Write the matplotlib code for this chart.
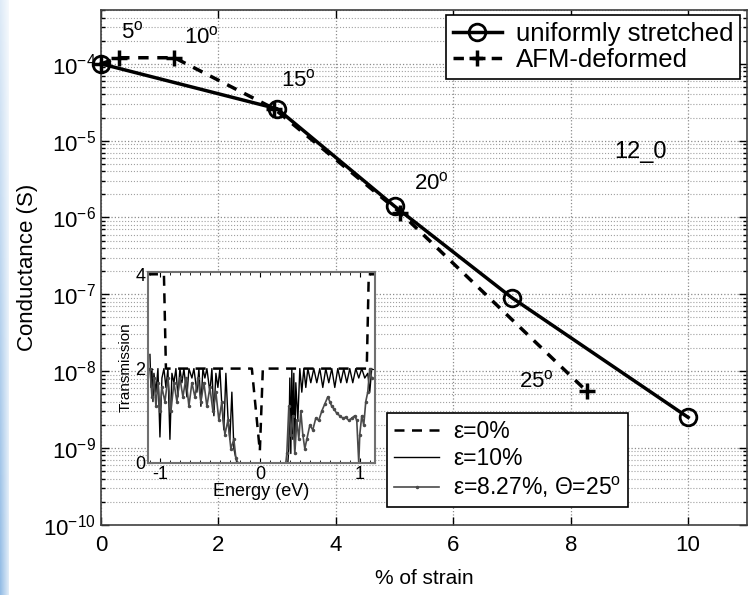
import numpy as np
import matplotlib
matplotlib.use("Agg")
import matplotlib.pyplot as plt
from matplotlib.ticker import LogLocator, NullFormatter, MultipleLocator

plt.rcParams['font.family'] = ['Liberation Sans', 'DejaVu Sans']
plt.rcParams['mathtext.default'] = 'regular'
plt.rcParams['axes.unicode_minus'] = False

# conductance vs strain
strain_uniform = [0, 3, 5, 7, 10]
cond_uniform = [1.0e-4, 2.6e-5, 1.4e-6, 9.0e-8, 2.5e-9]

afm_angle = [0, 5, 10, 15, 20, 25]
strain_afm = [0, 0.3, 1.25, 2.95, 5.1, 8.27]
cond_afm = [1.0e-4, 1.2e-4, 1.2e-4, 2.6e-5, 1.15e-6, 5.5e-9]

y_ticks = [1e-10, 1e-9, 1e-8, 1e-7, 1e-6, 1e-5, 1e-4]

# transmission spectra (inset)
e_0 = [-1.12, -0.96, -0.94, -0.08, 0.0, 0.03, 1.07, 1.09, 1.15]
t_0 = [4, 4, 2, 2, 0.25, 2, 2, 4, 4]

e_10 = [-1.10, -1.09, -1.08, -1.07, -1.06, -1.04, -1.02, -1.00, -0.98, -0.96,
        -0.94, -0.92, -0.90, -0.88, -0.86, -0.84, -0.82, -0.80, -0.78, -0.76,
        -0.73, -0.71, -0.68, -0.66, -0.63, -0.61, -0.59, -0.57, -0.55, -0.53,
        -0.50, -0.48, -0.46, -0.44, -0.42, -0.40, -0.38, -0.36, -0.34, -0.32,
        -0.30, -0.28, -0.26, -0.24, -0.23, 0.28, 0.29, 0.30, 0.31, 0.32,
        0.33, 0.34, 0.35, 0.36, 0.38, 0.40, 0.42, 0.44, 0.46, 0.48,
        0.51, 0.54, 0.57, 0.60, 0.63, 0.66, 0.69, 0.72, 0.75, 0.78,
        0.81, 0.84, 0.87, 0.90, 0.93, 0.96, 0.99, 1.02, 1.05, 1.08,
        1.10, 1.12]
t_10 = [2.3, 1.6, 2.0, 1.3, 1.9, 1.5, 2.0, 0.55, 1.8, 2.0,
        1.6, 2.0, 0.5, 1.9, 1.7, 2.0, 1.4, 2.0, 1.7, 2.0,
        1.4, 2.0, 1.8, 2.0, 1.5, 2.0, 1.2, 2.0, 1.8, 2.0,
        1.5, 2.0, 1.0, 1.9, 1.6, 2.0, 1.2, 0.7, 1.9, 1.0,
        0.5, 1.5, 0.3, 0.1, 0.0, 0.0, 0.3, 1.8, 0.2, 2.0,
        0.5, 1.9, 0.3, 1.7, 0.9, 2.0, 1.5, 2.0, 1.6, 2.0,
        1.7, 2.0, 1.7, 2.0, 1.6, 2.0, 1.7, 2.0, 1.6, 2.0,
        1.7, 2.0, 1.7, 2.0, 1.7, 2.0, 1.8, 2.0, 1.8, 1.9,
        1.5, 2.0]

e_25 = [-1.10, -1.08, -1.06, -1.04, -1.02, -1.00, -0.98, -0.95, -0.92, -0.89,
        -0.86, -0.83, -0.80, -0.77, -0.74, -0.71, -0.68, -0.65, -0.62, -0.59,
        -0.56, -0.53, -0.50, -0.47, -0.44, -0.41, -0.38, -0.35, -0.32, -0.29,
        -0.26, -0.24, -0.22, 0.26, 0.27, 0.29, 0.31, 0.33, 0.35, 0.37,
        0.39, 0.41, 0.43, 0.45, 0.47, 0.50, 0.53, 0.56, 0.59, 0.62,
        0.65, 0.68, 0.70, 0.72, 0.74, 0.77, 0.80, 0.83, 0.86, 0.89,
        0.92, 0.95, 0.97, 0.99, 1.00, 1.02, 1.04, 1.06, 1.08, 1.10,
        1.12]
t_25 = [2.0, 1.4, 1.8, 1.2, 1.7, 1.1, 1.6, 1.3, 1.8, 1.1,
        1.7, 1.3, 1.8, 1.4, 1.8, 1.2, 1.7, 1.4, 1.8, 1.3,
        1.7, 1.2, 1.6, 1.1, 1.5, 0.9, 1.3, 0.6, 0.9, 0.3,
        0.5, 0.1, 0.0, 0.0, 0.2, 1.2, 0.6, 1.0, 0.2, 0.9,
        0.5, 1.1, 0.6, 0.3, 0.5, 0.8, 0.7, 0.95, 0.9, 1.1,
        1.25, 1.4, 1.3, 1.2, 1.15, 1.05, 1.0, 0.95, 0.97, 0.9,
        0.95, 1.0, 0.9, 0.0, 0.6, 1.0, 0.8, 1.3, 1.5, 2.0,
        1.8]

fig = plt.figure(figsize=(7.51, 5.95), dpi=100)

# pale blue strip along the left edge
gy = np.linspace(0, 1, 595)[:, None]
gx = np.linspace(0, 1, 9)[None, :]
alpha = (0.3 + 0.7 * gy) * (1 - 0.7 * gx)
rgba = np.ones((595, 9, 4))
rgba[..., 0] = 1 - alpha * 0.42
rgba[..., 1] = 1 - alpha * 0.26
rgba[..., 2] = 1 - alpha * 0.10
fig.figimage(rgba, xo=0, yo=0, origin='upper', zorder=0)

ax = fig.add_axes([0.1345, 0.118, 0.860, 0.865])
ax.set_yscale('log')
ax.set_xlim(0, 11)
ax.set_ylim(1e-10, 5e-4)

ax.plot(strain_uniform, cond_uniform, '-o', color='black', lw=2.5,
        ms=12, mfc='none', mew=2, clip_on=False, zorder=5,
        label='uniformly stretched')
ax.plot(strain_afm, cond_afm, '--+', color='black', lw=2.5,
        ms=11, mew=2.5, dashes=(3, 2.5), clip_on=False, zorder=4,
        label='AFM-deformed')

offsets = {5: (14, 25), 10: (27, 20), 15: (24, 28), 20: (31, 29), 25: (-50, 10)}
for ang, sx, cy in zip(afm_angle, strain_afm, cond_afm):
    if ang in offsets:
        ax.annotate(str(ang) + r'$^{o}$', (sx, cy), xytext=offsets[ang],
                    textcoords='offset pixels', ha='center', va='center',
                    fontsize=16)

ax.text(0.836, 0.724, '12_0', transform=ax.transAxes, ha='center',
        va='center', fontsize=17)

ax.set_xticks([0, 2, 4, 6, 8, 10])
ax.set_yticks(y_ticks)
ax.yaxis.set_minor_locator(LogLocator(base=10, subs=np.arange(2, 10), numticks=20))
ax.yaxis.set_minor_formatter(NullFormatter())
ax.tick_params(which='both', direction='in', top=True, right=True,
               labelsize=16, width=1)
ax.tick_params(axis='x', pad=7)
ax.tick_params(which='major', length=6)
ax.tick_params(which='minor', length=3)
ax.grid(which='major', axis='both', ls=':', color='#8c8c8c', lw=0.9)
ax.grid(which='minor', axis='y', ls=':', color='#a0a0a0', lw=0.8)
for sp in ax.spines.values():
    sp.set_linewidth(1.2)
    sp.set_color('#404040')

ax.set_xlabel('% of strain', fontsize=15, labelpad=10)
ax.set_ylabel('Conductance (S)', fontsize=16, labelpad=4)

leg = ax.legend(loc='upper right', bbox_to_anchor=(0.989, 0.990),
                fontsize=18.5, handlelength=1.9, handletextpad=0.55,
                labelspacing=0.1, borderpad=0.25, borderaxespad=0,
                fancybox=False, framealpha=1, edgecolor='black')
leg.get_frame().set_linewidth(1.2)

# inset: transmission spectra
ins = fig.add_axes([0.197, 0.222, 0.302, 0.321])
l0, = ins.plot(e_0, t_0, '--', color='black', lw=1.8, dashes=(4, 3))
l10, = ins.plot(e_10, t_10, '-', color='black', lw=1.0)
l25, = ins.plot(e_25, t_25, '.-', color='#4a4a4a', lw=1.2, ms=3)
ins.set_xlim(-1.12, 1.15)
ins.set_ylim(0, 4.05)
ins.set_xticks([-1, 0, 1])
ins.set_yticks([0, 2, 4])
ins.xaxis.set_minor_locator(MultipleLocator(0.1))
ins.tick_params(which='both', direction='in', top=True, right=True,
                labelsize=13, pad=2)
ins.tick_params(which='minor', length=2)
for sp in ins.spines.values():
    sp.set_color('#707070')
    sp.set_linewidth(1.5)
ins.set_xlabel('Energy (eV)', fontsize=13, labelpad=0)
ins.set_ylabel('Transmission', fontsize=11, labelpad=2)

ileg = fig.legend([l0, l10, l25],
                  ['ε=0%', 'ε=10%', 'ε=8.27%, Θ=25' + r'$^{o}$'],
                  loc='upper left', bbox_to_anchor=(0.515, 0.306),
                  fontsize=16.5, handlelength=2.0, handletextpad=0.6,
                  labelspacing=0.2, borderpad=0.3, borderaxespad=0,
                  fancybox=False, framealpha=1, edgecolor='black')
ileg.get_frame().set_linewidth(1.2)

fig.savefig('out.png', dpi=100)
